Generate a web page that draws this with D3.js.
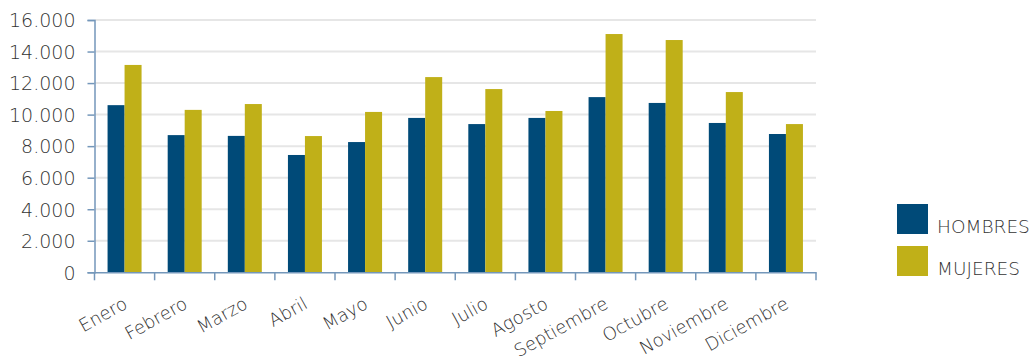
<!DOCTYPE html>
<html><head><meta charset="utf-8">
<script src="https://cdn.jsdelivr.net/npm/d3@7"></script>
<style>
html,body{margin:0;padding:0;background:#fff;}
text{font-family:"DejaVu Sans",sans-serif;font-weight:200;fill:#333;}
</style></head>
<body><svg id="c" width="1033" height="361"></svg>
<script>
const months = ["Enero","Febrero","Marzo","Abril","Mayo","Junio","Julio","Agosto","Septiembre","Octubre","Noviembre","Diciembre"];
const hombres = [10600,8700,8650,7440,8260,9790,9400,9790,11110,10740,9470,8770];
const mujeres = [13150,10300,10670,8640,10170,12380,11620,10230,15110,14730,11430,9400];
const seriesNames = ["HOMBRES","MUJERES"];
const yTicks = [0,2000,4000,6000,8000,10000,12000,14000,16000];
const colors = ["#004a78","#c0b018"];

const svg = d3.select("#c");
const x0 = 94.5, x1 = 816, yTop = 20, yBot = 272.3;
const x = d3.scaleBand().domain(months).range([x0,x1]).paddingInner(0).paddingOuter(0);
const y = d3.scaleLinear().domain([0,16000]).range([yBot,yTop]);
const fmt = v => d3.format(",")(v).replace(/,/g,".");

// gridlines
svg.append("g").selectAll("line").data(yTicks.filter(d=>d>0)).join("line")
  .attr("x1",x0).attr("x2",x1).attr("y1",d=>y(d)).attr("y2",d=>y(d))
  .attr("stroke","#e6e6e6").attr("stroke-width",2);

// bars
const bw = 17;
const data = months.map((m,i)=>({m, vals:[hombres[i],mujeres[i]]}));
const g = svg.append("g");
data.forEach(d=>{
  const cx = x(d.m) + x.bandwidth()/2;
  d.vals.forEach((v,k)=>{
    g.append("rect").attr("x", cx - bw + k*bw).attr("width", bw)
      .attr("y", y(v)).attr("height", yBot - y(v)).attr("fill", colors[k]);
  });
});

// y axis
const yAxis = d3.axisLeft(y).tickValues(yTicks).tickFormat(fmt).tickSize(7).tickPadding(12);
const ya = svg.append("g").attr("transform",`translate(${x0},0)`).call(yAxis);
ya.select(".domain").attr("stroke","#7497ba").attr("stroke-width",1.5);
ya.selectAll(".tick line").attr("stroke","#7497ba").attr("stroke-width",1.5);
ya.selectAll(".tick text").style("font-size","19px").style("font-family","'DejaVu Sans',sans-serif").style("font-weight","200").attr("fill","#333").attr("dy","0.36em");

// x axis
const xa = svg.append("g").attr("transform",`translate(0,${yBot})`)
  .call(d3.axisBottom(x).tickSize(0).tickFormat(""));
xa.select(".domain").attr("stroke","#7497ba").attr("stroke-width",1.5);
xa.selectAll(".tick").remove();
xa.append("g").selectAll("line").data(d3.range(months.length+1)).join("line")
  .attr("x1",i=>x0 + i*x.step()).attr("x2",i=>x0 + i*x.step())
  .attr("y1",0).attr("y2",8).attr("stroke","#7497ba").attr("stroke-width",1.5);
svg.append("g").selectAll("text").data(months).join("text")
  .attr("transform", d=>`translate(${x(d)+x.bandwidth()/2+4},${yBot+35}) rotate(-29)`)
  .attr("text-anchor","end")
  .style("font-size","18px")
  .text(d=>d);

// legend
const lg = svg.append("g");
seriesNames.forEach((s,i)=>{
  lg.append("rect").attr("x",897).attr("y",204+i*42).attr("width",31).attr("height",30).attr("fill",colors[i]);
  lg.append("text").attr("x",937).attr("y",233+i*42).style("font-size","18.5px").text(s);
});
</script></body></html>
